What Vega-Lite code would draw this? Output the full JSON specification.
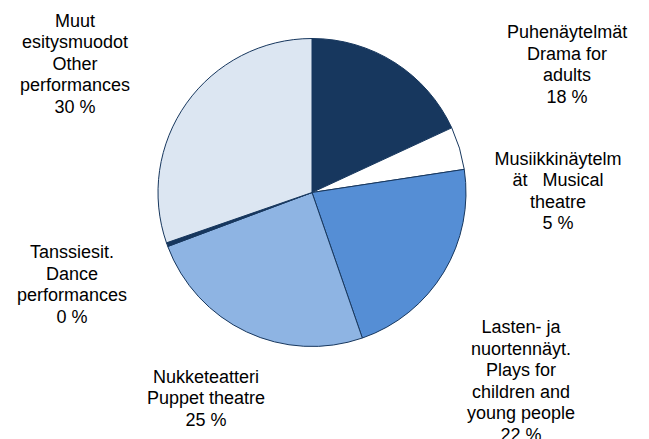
{
  "$schema": "https://vega.github.io/schema/vega-lite/v6.json",
  "width": 624,
  "height": 385,
  "autosize": {"type": "none"},
  "padding": {"left": 0, "top": 0, "right": 25, "bottom": 54},
  "background": "white",
  "config": {"view": {"stroke": null}},
  "data": {
    "values": [
      {"order": 1, "cat": "Drama", "value": 18.1, "label": "Puhenäytelmät\nDrama for\nadults\n18 %"},
      {"order": 2, "cat": "Musical", "value": 4.5, "label": "Musiikkinäytelm\nät\u00a0\u00a0 Musical\ntheatre\n5 %"},
      {"order": 3, "cat": "Children", "value": 22.1, "label": "Lasten- ja\nnuortennäyt.\nPlays for\nchildren and\nyoung people\n22 %"},
      {"order": 4, "cat": "Puppet", "value": 24.6, "label": "Nukketeatteri\nPuppet theatre\n25 %"},
      {"order": 5, "cat": "Dance", "value": 0.4, "label": "Tanssiesit.\nDance\nperformances\n0 %"},
      {"order": 6, "cat": "Other", "value": 30.3, "label": "Muut\nesitysmuodot\nOther\nperformances\n30 %"}
    ]
  },
  "layer": [
    {
      "mark": {"type": "arc", "outerRadius": 154, "stroke": "#17375E", "strokeWidth": 1},
      "encoding": {
        "theta": {"field": "value", "type": "quantitative", "stack": true},
        "order": {"field": "order", "type": "quantitative"},
        "color": {
          "field": "cat",
          "type": "nominal",
          "legend": null,
          "scale": {
            "domain": ["Drama", "Musical", "Children", "Puppet", "Dance", "Other"],
            "range": ["#17375E", "#FFFFFF", "#558ED5", "#8EB4E3", "#17375E", "#DCE6F2"]
          }
        }
      }
    },
    {
      "mark": {"type": "text", "font": "Liberation Sans", "fontSize": 18, "lineBreak": "\n", "lineHeight": 21.5, "align": "center", "baseline": "middle", "color": "#000000"},
      "encoding": {
        "theta": {
          "field": "value",
          "type": "quantitative",
          "stack": true,
          "scale": {
            "type": "linear",
            "zero": false,
            "nice": false,
            "domain": [9.05, 20.35, 33.65, 57.0, 69.5, 84.85],
            "range": [1.0123, 1.4394, 2.1461, 3.6607, 4.4654, 5.3360]
          }
        },
        "order": {"field": "order", "type": "quantitative"},
        "radius": {
          "field": "value",
          "type": "quantitative",
          "scale": {
            "type": "linear",
            "zero": false,
            "nice": false,
            "domain": [0.4, 4.5, 18.1, 22.1, 24.6, 30.3],
            "range": [247.5, 248.1, 300.8, 249.1, 213.6, 292]
          }
        },
        "text": {"field": "label", "type": "nominal"}
      }
    }
  ],
  "resolve": {"scale": {"theta": "independent", "radius": "independent"}}
}
